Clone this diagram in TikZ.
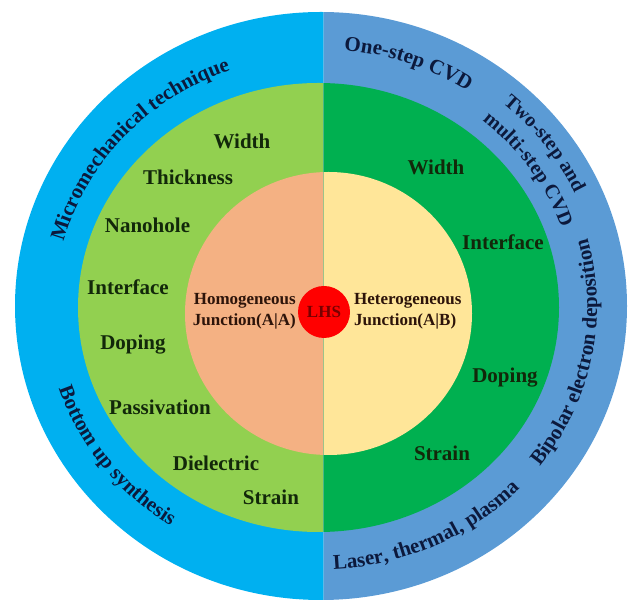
\documentclass[tikz,border=0pt]{standalone}
\usepackage{fontspec}
\setmainfont{Liberation Serif}
\usepackage{tikz}
\usetikzlibrary{decorations.text}

\definecolor{outerleft}{RGB}{0,176,240}
\definecolor{outerright}{RGB}{91,155,213}
\definecolor{ringleft}{RGB}{146,208,80}
\definecolor{ringright}{RGB}{0,176,80}
\definecolor{coreleft}{RGB}{244,177,131}
\definecolor{coreright}{RGB}{255,230,153}
\definecolor{methodtext}{RGB}{12,25,60}
\definecolor{factortext}{RGB}{18,40,10}
\definecolor{junctiontext}{RGB}{45,20,10}
\definecolor{lhstext}{RGB}{120,0,0}

\begin{document}
\begin{tikzpicture}
    [
      x=1pt, y=1pt,
      factor/.style = {font=\bfseries\fontsize{21}{21}\selectfont, text=factortext, inner sep=0pt},
      junction/.style = {font=\bfseries\fontsize{17}{21}\selectfont, text=junctiontext, inner sep=0pt},
      method/.style = {decorate, decoration={text along path, text align=center, text color=methodtext}},
    ]

    \useasboundingbox (0,0) rectangle (629,602);
    \coordinate (hub) at (320,295.5);

    \begin{scope}
      \clip (0,0) rectangle (323.5,602);
      \fill[outerleft] (321,296) ellipse [x radius=306pt, y radius=294pt];
      \fill[ringleft] (318.5,294.5) ellipse [x radius=240.5pt, y radius=224.5pt];
      \fill[coreleft] (328.5,288.5) ellipse [x radius=143.5pt, y radius=141.5pt];
    \end{scope}
    \begin{scope}
      \clip (323.5,0) rectangle (629,602);
      \fill[outerright] (321,296) ellipse [x radius=306pt, y radius=294pt];
      \fill[ringright] (318.5,294.5) ellipse [x radius=240.5pt, y radius=224.5pt];
      \fill[coreright] (328.5,288.5) ellipse [x radius=143.5pt, y radius=141.5pt];
    \end{scope}

    \node[circle, fill=red, minimum size=52pt, inner sep=0pt, text=lhstext,
      font=\bfseries\fontsize{17}{17}\selectfont] (lhs) at (324,290) {LHS};

    \node[junction, align=right, anchor=east] (homo) at (296,291) {Homogeneous\\Junction(A|A)};
    \node[junction, align=left, anchor=west] (hetero) at (354,291) {Heterogeneous\\Junction(A|B)};

    \node[factor] (lwidth) at (242,461) {Width};
    \node[factor] (lthick) at (188,425) {Thickness};
    \node[factor] (lhole) at (147.5,377) {Nanohole};
    \node[factor] (linter) at (128,315) {Interface};
    \node[factor] (ldoping) at (133,257) {Doping};
    \node[factor] (lpass) at (160,195) {Passivation};
    \node[factor] (ldiel) at (216,139) {Dielectric};
    \node[factor] (lstrain) at (271,105) {Strain};

    \node[factor] (rwidth) at (436,435) {Width};
    \node[factor] (rinter) at (503,360) {Interface};
    \node[factor] (rdoping) at (505,224) {Doping};
    \node[factor] (rstrain) at (442,149) {Strain};

    \path[method, decoration={text={|\bfseries\fontsize{21}{21}\selectfont|Micromechanical technique}}]
      (hub) ++(188:265.4pt and 250.9pt) arc[start angle=188, end angle=88, x radius=265.4pt, y radius=250.9pt];
    \path[method, decoration={text={|\bfseries\fontsize{21}{21}\selectfont|One-step CVD}}]
      (hub) ++(120:271.3pt and 257.2pt) arc[start angle=120, end angle=21, x radius=271.3pt, y radius=257.2pt];
    \path[method, decoration={text={|\bfseries\fontsize{20}{20}\selectfont|Two-step and}}]
      (hub) ++(86.5:281.1pt and 267.6pt) arc[start angle=86.5, end angle=-13.5, x radius=281.1pt, y radius=267.6pt];
    \path[method, decoration={text={|\bfseries\fontsize{20}{20}\selectfont|multi-step CVD}}]
      (hub) ++(84:255.6pt and 240.5pt) arc[start angle=84, end angle=-16, x radius=255.6pt, y radius=240.5pt];
    \path[method, decoration={text={|\bfseries\fontsize{21}{21}\selectfont|Bipolar electron deposition}}]
      (hub) ++(-61:277pt and 263pt) arc[start angle=-61, end angle=39, x radius=277pt, y radius=263pt];
    \path[method, decoration={text={|\bfseries\fontsize{21}{21}\selectfont|Laser, thermal, plasma}}]
      (hub) ++(-115:277pt and 263pt) arc[start angle=-115, end angle=-15, x radius=277pt, y radius=263pt];
    \path[method, decoration={text={|\bfseries\fontsize{21}{21}\selectfont|Bottom up synthesis}}]
      (hub) ++(167:275.2pt and 261.3pt) arc[start angle=167, end angle=267, x radius=275.2pt, y radius=261.3pt];
\end{tikzpicture}
\end{document}
